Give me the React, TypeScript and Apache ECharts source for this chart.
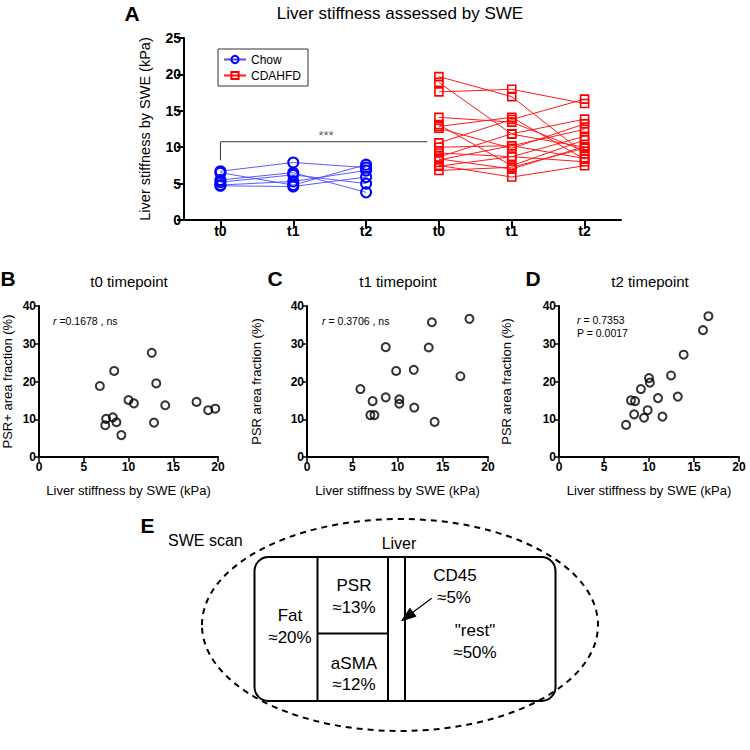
import React, { useEffect, useRef } from "react";
import * as echarts from "echarts";

const FONT = "Liberation Sans, Arial, Helvetica, sans-serif";

// Panel A: categories (ids) and tick labels
const A_CAT_IDS = ["Chow t0", "Chow t1", "Chow t2", "CDAHFD t0", "CDAHFD t1", "CDAHFD t2"];
const A_TICK_LABELS = ["t0", "t1", "t2", "t0", "t1", "t2"];

// Chow mice (t0, t1, t2), kPa
const CHOW_T0 = [6.7, 6.5, 5.5, 5.2, 4.8, 4.7];
const CHOW_T1 = [7.9, 4.8, 6.5, 6.2, 5.3, 4.6];
const CHOW_T2 = [7.2, 7.6, 3.8, 5.0, 6.8, 5.9];

// CDAHFD mice (t0, t1, t2), kPa
const CDAHFD_T0 = [19.7, 18.9, 17.6, 14.1, 13.1, 12.85, 12.6, 10.6, 10.0, 9.2, 8.65, 8.4, 8.25, 7.5, 7.4, 6.8];
const CDAHFD_T1 = [16.95, 11.8, 17.95, 13.45, 7.45, 14.1, 9.85, 13.8, 10.2, 8.7, 11.85, 7.0, 10.2, 5.9, 8.7, 7.25];
const CDAHFD_T2 = [9.1, 10.0, 16.0, 9.45, 11.0, 8.35, 13.2, 16.6, 12.45, 8.0, 13.85, 10.1, 8.45, 7.45, 11.5, 9.85];

// Significance bracket (in panel A data units: x = category position, y = kPa)
const BRACKET = [[0, 8.2], [0, 10.75], [2.84, 10.75]];
const STARS_POS = [1.45, 10.75];

// Panel B: t0
const B_X = [6.8, 8.4, 12.6, 13.1, 10.0, 10.6, 14.1, 17.6, 18.9, 19.7, 7.5, 7.4, 8.25, 8.65, 12.85, 9.2];
const B_Y = [18.8, 22.8, 27.6, 19.5, 15.1, 14.2, 13.7, 14.6, 12.4, 12.8, 10.1, 8.4, 10.5, 9.2, 9.1, 5.8];
// Panel C: t1
const C_X = [5.9, 7.25, 8.7, 8.7, 9.85, 10.2, 10.2, 11.8, 11.85, 13.45, 13.8, 14.1, 16.95, 17.95, 7.0, 7.45];
const C_Y = [18.0, 14.8, 15.8, 29.1, 22.8, 15.3, 14.1, 23.1, 13.1, 29.0, 35.7, 9.3, 21.4, 36.6, 11.1, 11.1];
// Panel D: t2
const D_X = [16.6, 16.0, 13.85, 12.45, 13.2, 10.0, 10.1, 9.1, 11.0, 8.0, 8.45, 9.85, 11.5, 8.35, 9.45, 7.45];
const D_Y = [37.3, 33.6, 27.1, 21.6, 16.0, 20.9, 19.7, 18.0, 15.6, 15.0, 14.8, 12.4, 10.7, 11.3, 10.4, 8.5];

const SCATTER_X_TICKS = { min: 0, max: 20, interval: 5 };
const SCATTER_Y_TICKS = { min: 0, max: 40, interval: 10 };

function zip(xs: number[], ys: number[]) {
  return xs.map((x, i) => [x, ys[i]]);
}

export default function App() {
  const ref = useRef<HTMLDivElement>(null);

  useEffect(() => {
    if (!ref.current) return;
    const chart = echarts.init(ref.current, null, { renderer: "svg" });

    const axisLine = { show: true, onZero: false, lineStyle: { color: "#000", width: 2 } };
    const boldLabel = (size: number, margin: number) => ({
      color: "#000",
      fontWeight: "bold",
      fontSize: size,
      fontFamily: FONT,
      margin,
    });

    const series: any[] = [];
    CHOW_T0.forEach((_, i) => {
      series.push({
        name: "Chow",
        type: "line",
        xAxisIndex: 1,
        yAxisIndex: 0,
        data: [[0, CHOW_T0[i]], [1, CHOW_T1[i]], [2, CHOW_T2[i]]],
        symbol: "circle",
        symbolSize: 10,
        itemStyle: { color: "rgba(255,255,255,0)", borderColor: "#0000ff", borderWidth: 2 },
        lineStyle: { color: "#4a4aff", width: 0.9 },
        z: 3,
      });
    });
    CDAHFD_T0.forEach((_, i) => {
      series.push({
        name: "CDAHFD",
        type: "line",
        xAxisIndex: 1,
        yAxisIndex: 0,
        data: [[3, CDAHFD_T0[i]], [4, CDAHFD_T1[i]], [5, CDAHFD_T2[i]]],
        symbol: "rect",
        symbolSize: 8,
        itemStyle: { color: "rgba(255,255,255,0)", borderColor: "#ff0000", borderWidth: 1.6 },
        lineStyle: { color: "#ff1a1a", width: 1 },
        z: 3,
      });
    });
    series.push({
      name: "bracket",
      type: "line",
      xAxisIndex: 1,
      yAxisIndex: 0,
      data: BRACKET,
      symbol: "none",
      silent: true,
      lineStyle: { color: "#333", width: 1 },
      z: 2,
    });
    series.push({
      name: "stars",
      type: "scatter",
      xAxisIndex: 1,
      yAxisIndex: 0,
      data: [STARS_POS],
      symbolSize: 0,
      silent: true,
      label: {
        show: true,
        position: "top",
        distance: 0,
        formatter: "***",
        color: "#333",
        fontSize: 13,
        fontFamily: FONT,
      },
    });

    const scatterStyle = {
      type: "scatter",
      symbol: "circle",
      symbolSize: 8,
      itemStyle: { color: "rgba(255,255,255,0)", borderColor: "#000", borderWidth: 2 },
    };
    series.push({ ...scatterStyle, name: "t0", xAxisIndex: 2, yAxisIndex: 1, data: zip(B_X, B_Y) });
    series.push({ ...scatterStyle, name: "t1", xAxisIndex: 3, yAxisIndex: 2, data: zip(C_X, C_Y) });
    series.push({ ...scatterStyle, name: "t2", xAxisIndex: 4, yAxisIndex: 3, data: zip(D_X, D_Y) });

    const scatterX = (gridIndex: number) => ({
      type: "value",
      gridIndex,
      ...SCATTER_X_TICKS,
      axisLine,
      axisTick: { show: true, length: 5, lineStyle: { color: "#000", width: 1.5 } },
      axisLabel: boldLabel(12, 4),
      splitLine: { show: false },
      name: "Liver stiffness by SWE (kPa)",
      nameLocation: "middle",
      nameGap: 27,
      nameTextStyle: { color: "#000", fontSize: 13, fontFamily: FONT },
    });
    const scatterY = (gridIndex: number, name: string, gap: number) => ({
      type: "value",
      gridIndex,
      ...SCATTER_Y_TICKS,
      axisLine,
      axisTick: { show: true, length: 5, lineStyle: { color: "#000", width: 1.5 } },
      axisLabel: boldLabel(12, 3),
      splitLine: { show: false },
      name,
      nameLocation: "middle",
      nameRotate: 90,
      nameGap: gap,
      nameTextStyle: { color: "#000", fontSize: 13, fontFamily: FONT },
    });

    const txt = (text: string, x: number, y: number, size: number, extra: any = {}) => ({
      type: "text",
      x,
      y,
      style: {
        text,
        fill: "#000",
        fontSize: size,
        fontFamily: FONT,
        align: "center",
        verticalAlign: "middle",
        ...extra,
      },
    });

    const richR = (rest: string, x: number, y: number) => ({
      type: "text",
      x,
      y,
      style: {
        text: "{i|r}{n| " + rest + "}",
        fill: "#000",
        fontSize: 10.5,
        fontFamily: FONT,
        verticalAlign: "middle",
        rich: {
          i: { fontStyle: "italic", fontSize: 10.5, fontFamily: FONT, fill: "#000" },
          n: { fontSize: 10.5, fontFamily: FONT, fill: "#000" },
        },
      },
    });

    // Arrow geometry in panel E
    const tip = [401.7, 620.7];
    const tail = [431.7, 598.3];
    const dx = tip[0] - tail[0];
    const dy = tip[1] - tail[1];
    const len = Math.sqrt(dx * dx + dy * dy);
    const ux = dx / len;
    const uy = dy / len;
    const headLen = 14;
    const headHalf = 5;
    const base = [tip[0] - ux * headLen, tip[1] - uy * headLen];
    const px = -uy * headHalf;
    const py = ux * headHalf;

    const graphic: any[] = [
      txt("A", 132, 13, 21, { fontWeight: "bold" }),
      txt("Liver stiffness assessed by SWE", 400, 13, 17),
      txt("B", 8, 278, 21, { fontWeight: "bold" }),
      txt("t0 timepoint", 129, 281, 15),
      txt("C", 275, 278, 21, { fontWeight: "bold" }),
      txt("t1 timepoint", 398, 281, 15),
      txt("D", 533, 278, 21, { fontWeight: "bold" }),
      txt("t2 timepoint", 650, 281, 15),
      richR("=0.1678 , ns", 53, 321),
      richR("= 0.3706 , ns", 322, 321),
      richR("= 0.7353", 577, 320),
      {
        type: "text",
        x: 577,
        y: 333,
        style: { text: "P = 0.0017", fill: "#000", fontSize: 10.5, fontFamily: FONT, verticalAlign: "middle" },
      },
      // Panel E
      txt("E", 147.5, 525, 21, { fontWeight: "bold" }),
      txt("SWE scan", 168, 540, 16, { align: "left" }),
      {
        type: "ellipse",
        shape: { cx: 400, cy: 625, rx: 198, ry: 106 },
        style: { fill: "none", stroke: "#000", lineWidth: 2, lineDash: [6, 5] },
      },
      txt("Liver", 399, 543, 16),
      {
        type: "rect",
        shape: { x: 254.5, y: 557, width: 301, height: 144, r: 14 },
        style: { fill: "none", stroke: "#000", lineWidth: 2 },
      },
      { type: "line", shape: { x1: 317.5, y1: 557, x2: 317.5, y2: 701 }, style: { stroke: "#000", lineWidth: 2 } },
      { type: "line", shape: { x1: 388, y1: 557, x2: 388, y2: 701 }, style: { stroke: "#000", lineWidth: 2 } },
      { type: "line", shape: { x1: 405, y1: 557, x2: 405, y2: 701 }, style: { stroke: "#000", lineWidth: 2 } },
      { type: "line", shape: { x1: 317.5, y1: 633.5, x2: 388, y2: 633.5 }, style: { stroke: "#000", lineWidth: 2 } },
      txt("Fat", 290, 615, 17),
      txt("\u224820%", 290, 637, 17),
      txt("PSR", 354, 585, 17),
      txt("\u224813%", 354, 607, 17),
      txt("aSMA", 354, 663, 17),
      txt("\u224812%", 354, 684, 17),
      txt("CD45", 455, 575, 17),
      txt("\u22485%", 454, 597, 17),
      txt("\"rest\"", 475, 630, 17),
      txt("\u224850%", 475, 652, 17),
      {
        type: "line",
        shape: { x1: tail[0], y1: tail[1], x2: base[0], y2: base[1] },
        style: { stroke: "#000", lineWidth: 1.2 },
      },
      {
        type: "polygon",
        shape: {
          points: [
            [tip[0], tip[1]],
            [base[0] + px, base[1] + py],
            [base[0] - px, base[1] - py],
          ],
        },
        style: { fill: "#000", stroke: "#000", lineWidth: 1 },
      },
    ];

    const option: any = {
      animation: false,
      backgroundColor: "#fff",
      textStyle: { fontFamily: FONT },
      legend: {
        data: ["Chow", "CDAHFD"],
        left: 218,
        top: 49,
        orient: "vertical",
        borderColor: "#333",
        borderWidth: 1,
        padding: [4, 7, 4, 5],
        itemWidth: 22,
        itemHeight: 9,
        itemGap: 3,
        textStyle: { color: "#000", fontSize: 12, fontFamily: FONT, lineHeight: 13 },
      },
      grid: [
        { left: 184, top: 38, width: 437, height: 182 },
        { left: 38, top: 306, width: 180, height: 151 },
        { left: 307, top: 306, width: 181, height: 151 },
        { left: 559, top: 306, width: 180, height: 151 },
      ],
      xAxis: [
        {
          type: "category",
          gridIndex: 0,
          data: A_CAT_IDS,
          boundaryGap: true,
          axisLine,
          axisTick: { show: true, alignWithLabel: true, length: 8, lineStyle: { color: "#000", width: 2 } },
          axisLabel: {
            ...boldLabel(14, 4),
            interval: 0,
            formatter: (_v: string, i: number) => A_TICK_LABELS[i],
          },
          splitLine: { show: false },
        },
        { type: "value", gridIndex: 0, min: -0.5, max: 5.5, show: false },
        scatterX(1),
        scatterX(2),
        scatterX(3),
      ],
      yAxis: [
        {
          type: "value",
          gridIndex: 0,
          min: 0,
          max: 25,
          interval: 5,
          axisLine,
          axisTick: { show: true, length: 7, lineStyle: { color: "#000", width: 2 } },
          axisLabel: boldLabel(14, 3),
          splitLine: { show: false },
          name: "Liver stiffness by SWE (kPa)",
          nameLocation: "middle",
          nameRotate: 90,
          nameGap: 32,
          nameTextStyle: { color: "#000", fontSize: 14.5, fontFamily: FONT },
        },
        scatterY(1, "PSR+ area fraction (%)", 25),
        scatterY(2, "PSR area fraction (%)", 44),
        scatterY(3, "PSR area fraction (%)", 46),
      ],
      series,
      graphic,
    };

    chart.setOption(option);
    return () => chart.dispose();
  }, []);

  return (
    <div
      ref={ref}
      style={{ position: "fixed", left: 0, top: 0, width: 750, height: 750, background: "#fff" }}
    />
  );
}
